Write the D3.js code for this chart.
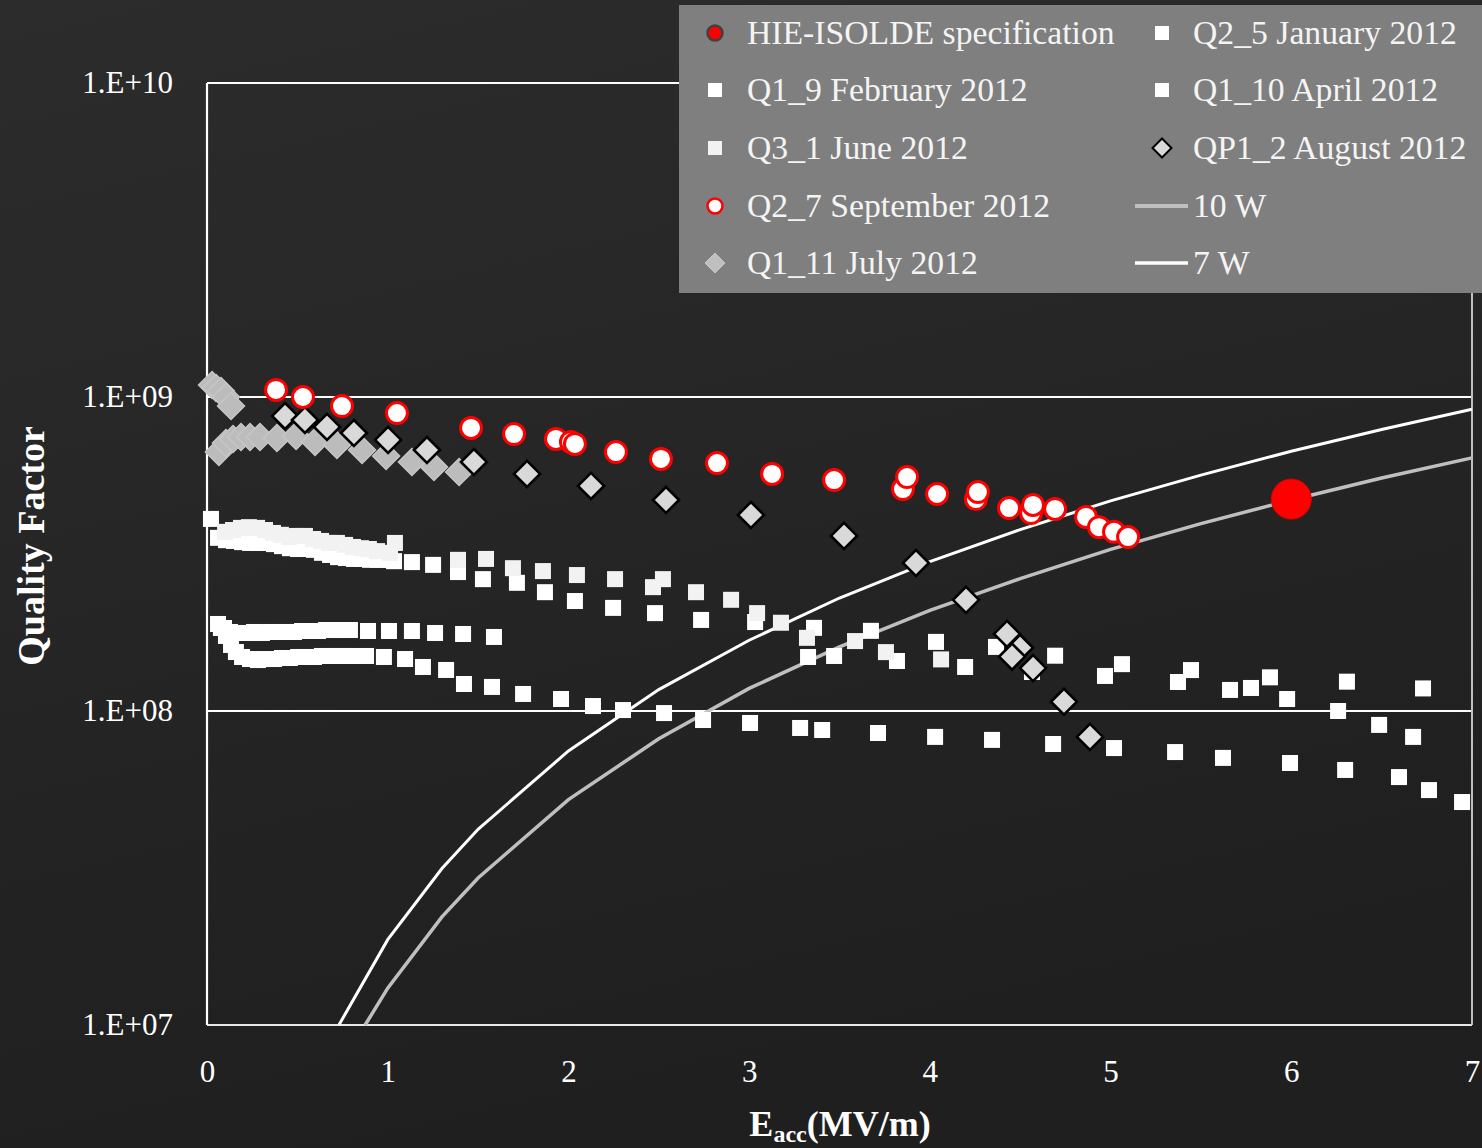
<!DOCTYPE html>
<html>
<head>
<meta charset="utf-8">
<script src="https://cdn.jsdelivr.net/npm/d3@7"></script>
<style>
  html, body { margin: 0; padding: 0; background: #262626; }
  svg { display: block; }
  text { font-family: "Liberation Serif", "Times New Roman", serif; }
</style>
</head>
<body>
<svg id="chart" width="1482" height="1148"></svg>
<script>
// ---------------- DATA ----------------
const xTicks = [0, 1, 2, 3, 4, 5, 6, 7];
const yTicks = [1e7, 1e8, 1e9, 1e10];

const specE = [6.0];
const specQ = [4.73e8];

const janE = [0.077,0.105,0.133,0.160,0.194,0.238,0.282,0.326,0.371,0.415,0.459,0.504,0.548,0.592,0.636,0.681,0.725,0.769,0.813,0.880,0.979,1.096,1.195,1.323,1.422,1.577,1.749,1.959,2.136,2.302,2.529,2.745,3.005,3.282,3.404,3.713,4.029,4.344,4.682,5.019,5.357,5.622,5.993,6.298,6.596,6.762,6.945];
const janQ = [1.838e8,1.734e8,1.623e8,1.541e8,1.486e8,1.464e8,1.453e8,1.464e8,1.464e8,1.475e8,1.475e8,1.486e8,1.486e8,1.486e8,1.497e8,1.497e8,1.497e8,1.497e8,1.497e8,1.497e8,1.486e8,1.464e8,1.381e8,1.351e8,1.219e8,1.193e8,1.133e8,1.092e8,1.037e8,1.007e8,9.85e7,9.36e7,9.16e7,8.83e7,8.70e7,8.51e7,8.27e7,8.09e7,7.85e7,7.62e7,7.40e7,7.09e7,6.83e7,6.49e7,6.16e7,5.60e7,5.13e7];

const febE = [0.061,0.094,0.127,0.172,0.216,0.260,0.304,0.349,0.393,0.437,0.481,0.526,0.570,0.614,0.658,0.703,0.747,0.791,0.891,1.007,1.134,1.262,1.417,1.588,3.326,3.470,3.818,4.195,4.565,4.969,5.373,5.661,5.777,5.977,6.259,6.486,6.674];
const febQ = [1.893e8,1.838e8,1.785e8,1.772e8,1.772e8,1.785e8,1.772e8,1.785e8,1.785e8,1.785e8,1.785e8,1.798e8,1.798e8,1.798e8,1.811e8,1.811e8,1.811e8,1.811e8,1.798e8,1.798e8,1.798e8,1.772e8,1.759e8,1.721e8,1.486e8,1.497e8,1.443e8,1.381e8,1.331e8,1.293e8,1.237e8,1.167e8,1.184e8,1.092e8,1.0e8,9.03e7,8.27e7];

const aprE = [0.022,0.061,0.105,0.149,0.194,0.238,0.282,0.326,0.371,0.415,0.459,0.504,0.548,0.592,0.636,0.681,0.725,0.769,0.813,0.858,0.902,0.946,0.991,1.035,1.134,1.251,1.389,1.527,1.715,1.870,2.036,2.247,2.479,2.734,3.033,3.359,3.674,4.034,4.366,4.693,5.063,5.445,5.882,6.308,6.729];
const aprQ = [4.09e8,3.56e8,3.50e8,3.48e8,3.45e8,3.43e8,3.43e8,3.43e8,3.40e8,3.35e8,3.30e8,3.28e8,3.28e8,3.26e8,3.19e8,3.14e8,3.09e8,3.07e8,3.05e8,3.05e8,3.03e8,3.03e8,3.03e8,3.00e8,2.98e8,2.92e8,2.77e8,2.63e8,2.56e8,2.39e8,2.24e8,2.13e8,2.05e8,1.95e8,1.92e8,1.84e8,1.80e8,1.66e8,1.60e8,1.50e8,1.41e8,1.35e8,1.28e8,1.24e8,1.18e8];

const junE = [0.100,0.144,0.188,0.232,0.277,0.321,0.365,0.409,0.454,0.498,0.542,0.587,0.631,0.675,0.719,0.764,0.808,0.852,0.896,0.941,1.013,1.040,1.389,1.544,1.693,1.859,2.047,2.258,2.468,2.523,2.706,2.900,3.044,3.176,3.320,3.586,3.757,4.062];
const junQ = [3.72e8,3.77e8,3.83e8,3.85e8,3.83e8,3.77e8,3.69e8,3.64e8,3.58e8,3.61e8,3.61e8,3.53e8,3.48e8,3.43e8,3.43e8,3.38e8,3.33e8,3.30e8,3.28e8,3.23e8,3.19e8,3.43e8,3.03e8,3.05e8,2.85e8,2.79e8,2.71e8,2.63e8,2.48e8,2.63e8,2.39e8,2.26e8,2.05e8,1.91e8,1.71e8,1.67e8,1.54e8,1.46e8];

const julE = [0.028,0.050,0.077,0.105,0.133,0.066,0.105,0.144,0.188,0.238,0.293,0.387,0.493,0.598,0.719,0.858,0.991,1.134,1.256,1.395];
const julQ = [1.092e9,1.068e9,1.045e9,1.0e9,9.36e8,6.68e8,7.14e8,7.35e8,7.46e8,7.46e8,7.46e8,7.40e8,7.51e8,7.19e8,7.03e8,6.78e8,6.49e8,6.21e8,5.99e8,5.77e8];

const augE = [0.432,0.542,0.664,0.813,1.002,1.217,1.477,1.771,2.125,2.540,3.010,3.525,3.923,4.200,4.427,4.499,4.455,4.571,4.742,4.886];
const augQ = [8.70e8,8.45e8,8.03e8,7.68e8,7.30e8,6.78e8,6.21e8,5.69e8,5.21e8,4.70e8,4.21e8,3.61e8,2.96e8,2.26e8,1.76e8,1.59e8,1.49e8,1.37e8,1.07e8,8.27e7];

const sepE = [0.382,0.531,0.747,1.051,1.461,1.699,1.931,2.014,2.036,2.263,2.512,2.822,3.127,3.470,3.851,3.874,4.040,4.255,4.266,4.438,4.560,4.571,4.693,4.864,4.936,5.019,5.097];
const sepQ = [1.053e9,1.0e9,9.36e8,8.89e8,7.97e8,7.62e8,7.35e8,7.19e8,7.09e8,6.68e8,6.35e8,6.16e8,5.69e8,5.44e8,5.09e8,5.56e8,4.91e8,4.73e8,4.98e8,4.43e8,4.27e8,4.53e8,4.40e8,4.15e8,3.85e8,3.72e8,3.58e8];

const w10E = [0.875,1.0,1.3,1.5,2.0,2.5,3.0,3.5,4.0,4.5,5.0,5.5,6.0,6.5,7.0];
const w10Q = [1.0e7,1.31e7,2.21e7,2.94e7,5.22e7,8.16e7,1.18e8,1.60e8,2.09e8,2.64e8,3.27e8,3.95e8,4.70e8,5.52e8,6.40e8];
const w7E = [0.73,1.0,1.3,1.5,2.0,2.5,3.0,3.5,4.0,4.5,5.0,5.5,6.0,6.5,7.0];
const w7Q = [1.0e7,1.87e7,3.15e7,4.20e7,7.46e7,1.17e8,1.68e8,2.29e8,2.99e8,3.78e8,4.67e8,5.64e8,6.72e8,7.88e8,9.14e8];

const legendLeft = ["HIE-ISOLDE specification","Q1_9 February 2012","Q3_1 June 2012","Q2_7 September 2012","Q1_11 July 2012"];
const legendRight = ["Q2_5 January 2012","Q1_10 April 2012","QP1_2 August 2012","10 W","7 W"];

// ---------------- CHART ----------------
const svg = d3.select("#chart");
const W = 1482, H = 1148;

const defs = svg.append("defs");
const bg = defs.append("linearGradient").attr("id","bg").attr("x1",0).attr("y1",0).attr("x2",0.3).attr("y2",1);
bg.append("stop").attr("offset","0%").attr("stop-color","#2c2c2c");
bg.append("stop").attr("offset","100%").attr("stop-color","#1f1f1f");
svg.append("rect").attr("width",W).attr("height",H).attr("fill","url(#bg)");

const x = d3.scaleLinear().domain([0,7]).range([207,1472]);
const y = d3.scaleLog().domain([1e7,1e10]).range([1025,83]);

// gridlines
svg.append("g").selectAll("line").data(yTicks).join("line")
  .attr("x1", x(0)).attr("x2", x(7))
  .attr("y1", d => y(d)).attr("y2", d => y(d))
  .attr("stroke", d => d === 1e7 ? "#e8e8e8" : "#ffffff")
  .attr("stroke-width", 2.2);
// left and right borders
svg.append("line").attr("x1",x(0)).attr("x2",x(0)).attr("y1",y(1e10)).attr("y2",y(1e7))
  .attr("stroke","#ffffff").attr("stroke-width",2.2);
svg.append("line").attr("x1",x(7)).attr("x2",x(7)).attr("y1",y(1e10)).attr("y2",y(1e7))
  .attr("stroke","#bfbfbf").attr("stroke-width",2);

// axes
const fmt = d => "1.E+" + String(Math.round(Math.log10(d))).padStart(2,"0");
const yAxis = svg.append("g").attr("transform",`translate(${x(0)},0)`)
  .call(d3.axisLeft(y).tickValues(yTicks).tickFormat(fmt).tickSize(0).tickPadding(34));
yAxis.select(".domain").remove();
yAxis.selectAll("text").attr("fill","#ffffff").style("font-size","31px")
  .style("font-family",'"Liberation Serif", serif');

const xAxis = svg.append("g").attr("transform",`translate(0,${y(1e7)})`)
  .call(d3.axisBottom(x).tickValues(xTicks).tickFormat(d3.format("d")).tickSize(0).tickPadding(35));
xAxis.select(".domain").remove();
xAxis.selectAll("text").attr("fill","#ffffff").style("font-size","31px")
  .style("font-family",'"Liberation Serif", serif');

// axis titles
svg.append("text").attr("transform","translate(44,546) rotate(-90)")
  .attr("text-anchor","middle").attr("fill","#ffffff")
  .style("font-size","38px").style("font-weight","bold").text("Quality Factor");
const xt = svg.append("text").attr("x",840).attr("y",1136).attr("text-anchor","middle")
  .attr("fill","#ffffff").style("font-size","36px").style("font-weight","bold");
xt.append("tspan").text("E");
xt.append("tspan").attr("dy",6).style("font-size","24px").text("acc");
xt.append("tspan").attr("dy",-6).text("(MV/m)");

// lines
const zip = (a,b) => a.map((v,i) => [v,b[i]]);
const line = d3.line().x(d => x(d[0])).y(d => y(d[1]));
svg.append("path").datum(zip(w10E,w10Q)).attr("d",line)
  .attr("fill","none").attr("stroke","#bfbfbf").attr("stroke-width",3.5);
svg.append("path").datum(zip(w7E,w7Q)).attr("d",line)
  .attr("fill","none").attr("stroke","#ffffff").attr("stroke-width",3);

// marker helpers
function squares(E,Q,fill,size){
  svg.append("g").selectAll("rect").data(zip(E,Q)).join("rect")
    .attr("x", d => x(d[0]) - size/2).attr("y", d => y(d[1]) - size/2)
    .attr("width", size).attr("height", size).attr("fill", fill);
}
const diamondPath = r => `M0,${-r}L${r},0L0,${r}L${-r},0Z`;
function diamonds(E,Q,fill,stroke,sw,r){
  svg.append("g").selectAll("path").data(zip(E,Q)).join("path")
    .attr("transform", d => `translate(${x(d[0])},${y(d[1])})`)
    .attr("d", diamondPath(r)).attr("fill", fill)
    .attr("stroke", stroke).attr("stroke-width", sw).attr("stroke-linejoin","miter");
}
function circles(E,Q,fill,stroke,sw,r){
  svg.append("g").selectAll("circle").data(zip(E,Q)).join("circle")
    .attr("cx", d => x(d[0])).attr("cy", d => y(d[1])).attr("r", r)
    .attr("fill", fill).attr("stroke", stroke).attr("stroke-width", sw);
}

squares(janE, janQ, "#ffffff", 16);
squares(febE, febQ, "#ffffff", 16);
squares(aprE, aprQ, "#ffffff", 16);
squares(junE, junQ, "#f2f2f2", 16);
diamonds(julE, julQ, "#bcbcbc", "#c6c6c6", 1.5, 13.5);
diamonds(augE, augQ, "#d9d9d9", "#000000", 2.6, 13);
circles(sepE, sepQ, "#ffffff", "#ff0000", 3, 10.5);
circles(specE, specQ, "#ff0000", "#e00000", 1, 20);

// legend
const lg = svg.append("g");
lg.append("rect").attr("x",679).attr("y",5).attr("width",W-679+5).attr("height",288).attr("fill","#7f7f7f");
const rowsY = [33, 90, 148, 206, 263];
const c1 = 715, c2 = 1162;
// column 1 markers
lg.append("circle").attr("cx",c1).attr("cy",rowsY[0]).attr("r",7.5).attr("fill","#ff0000").attr("stroke","#404040").attr("stroke-width",2.5);
lg.append("rect").attr("x",c1-7).attr("y",rowsY[1]-7).attr("width",14).attr("height",14).attr("fill","#ffffff");
lg.append("rect").attr("x",c1-7).attr("y",rowsY[2]-7).attr("width",14).attr("height",14).attr("fill","#f2f2f2");
lg.append("circle").attr("cx",c1).attr("cy",rowsY[3]).attr("r",7.5).attr("fill","#ffffff").attr("stroke","#ff0000").attr("stroke-width",2.5);
lg.append("path").attr("transform",`translate(${c1},${rowsY[4]})`).attr("d",diamondPath(10)).attr("fill","#bfbfbf").attr("stroke","#c6c6c6").attr("stroke-width",1);
// column 2 markers
lg.append("rect").attr("x",c2-7).attr("y",rowsY[0]-7).attr("width",14).attr("height",14).attr("fill","#ffffff");
lg.append("rect").attr("x",c2-7).attr("y",rowsY[1]-7).attr("width",14).attr("height",14).attr("fill","#ffffff");
lg.append("path").attr("transform",`translate(${c2},${rowsY[2]})`).attr("d",diamondPath(9.5)).attr("fill","#d9d9d9").attr("stroke","#000000").attr("stroke-width",2);
lg.append("line").attr("x1",1135).attr("x2",1188).attr("y1",rowsY[3]).attr("y2",rowsY[3]).attr("stroke","#bfbfbf").attr("stroke-width",4);
lg.append("line").attr("x1",1135).attr("x2",1188).attr("y1",rowsY[4]).attr("y2",rowsY[4]).attr("stroke","#ffffff").attr("stroke-width",3.5);

lg.selectAll("text.l").data(legendLeft).join("text").attr("class","l")
  .attr("x",747).attr("y",(d,i) => rowsY[i] + 11).attr("fill","#f4f4f4")
  .style("font-size","33.7px").text(d => d);
lg.selectAll("text.r").data(legendRight).join("text").attr("class","r")
  .attr("x",1193).attr("y",(d,i) => rowsY[i] + 11).attr("fill","#f4f4f4")
  .style("font-size","33.7px").text(d => d);
</script>
</body>
</html>
